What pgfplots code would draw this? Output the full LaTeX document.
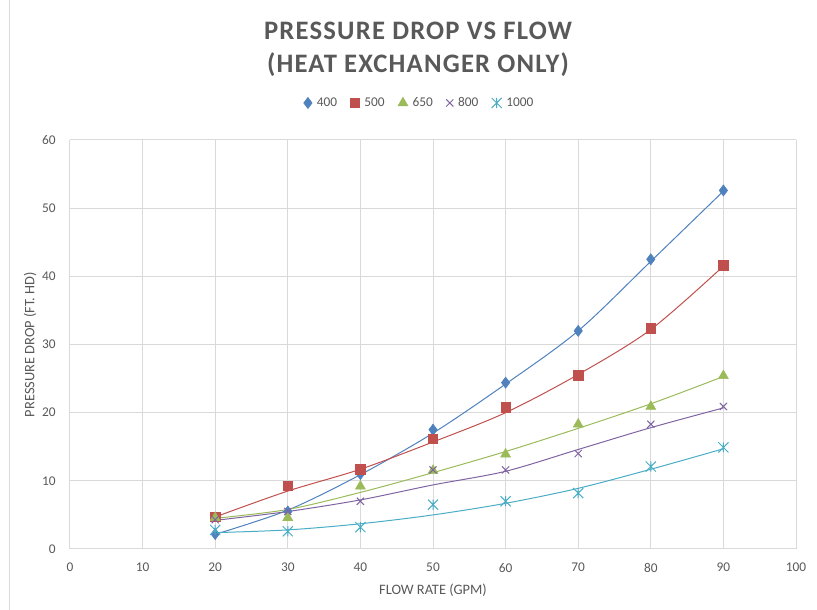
\documentclass[border=0pt]{standalone}
\usepackage{fontspec}
\setmainfont{Carlito}
\newfontfamily\titlefont[LetterSpace=4.5]{Carlito}
\usepackage{pgfplots}
\pgfplotsset{compat=1.18}
\definecolor{c1}{HTML}{4F81BD}
\definecolor{c2}{HTML}{C0504D}
\definecolor{c3}{HTML}{9BBB59}
\definecolor{c4}{HTML}{8064A2}
\definecolor{c5}{HTML}{4BACC6}
\definecolor{txt}{HTML}{595959}
\definecolor{gridc}{HTML}{D9D9D9}
\pgfdeclareplotmark{xstar}{%
  \pgfpathmoveto{\pgfqpoint{-\pgfplotmarksize}{-\pgfplotmarksize}}%
  \pgfpathlineto{\pgfqpoint{\pgfplotmarksize}{\pgfplotmarksize}}%
  \pgfpathmoveto{\pgfqpoint{-\pgfplotmarksize}{\pgfplotmarksize}}%
  \pgfpathlineto{\pgfqpoint{\pgfplotmarksize}{-\pgfplotmarksize}}%
  \pgfpathmoveto{\pgfqpoint{0pt}{-\pgfplotmarksize}}%
  \pgfpathlineto{\pgfqpoint{0pt}{\pgfplotmarksize}}%
  \pgfusepathqstroke}
\begin{document}
\begin{tikzpicture}
\useasboundingbox (-52.5pt,-45.75pt) rectangle (560.25pt,411.75pt);
\draw[gridc, line width=0.75pt] (-45pt,-45.75pt) -- (-45pt,411.75pt);
\node[font=\titlefont\fontsize{20}{24}\selectfont\bfseries, text=txt] at (261pt,388.5pt) {PRESSURE DROP VS FLOW};
\node[font=\titlefont\fontsize{20}{24}\selectfont\bfseries, text=txt] at (261pt,363.5pt) {(HEAT EXCHANGER ONLY)};
\begin{axis}[
  at={(0,0)}, anchor=south west,
  scale only axis, width=544.5pt, height=306.75pt,
  xmin=0, xmax=100, ymin=0, ymax=60,
  xtick distance=10, ytick distance=10,
  grid=major, grid style={gridc, line width=0.75pt},
  axis line style={draw=none},
  major tick length=0pt, tick style={draw=none},
  /pgf/number format/assume math mode=true,
  ticklabel style={font=\fontsize{10}{12}\selectfont, text=txt, inner sep=0pt},
  xticklabel style={anchor=center, yshift=-14pt},
  yticklabel style={anchor=east, xshift=-10.5pt},
  xlabel={FLOW RATE (GPM)}, ylabel={PRESSURE DROP (FT. HD)},
  label style={font=\fontsize{10.8}{12}\selectfont, text=txt},
  xlabel style={at={(axis description cs:0.5,-0.1002)}, anchor=center},
  ylabel style={at={(axis description cs:-0.0551,0.5)}, anchor=center},
  legend columns=-1,
  legend style={at={(axis description cs:0.482,1.0905)}, anchor=center, draw=none, fill=none,
    font=\fontsize{10}{12}\selectfont, text=txt,
    /tikz/every odd column/.append style={column sep=1.5pt},
    /tikz/every even column/.append style={column sep=8pt}},
  legend image code/.code={\draw[#1] plot coordinates {(0.12cm,0cm)};},
]
% trendlines
\addplot[c1, line width=0.75pt, smooth, forget plot] coordinates {(20,2.15)(30,5.7)(40,10.9)(50,17.0)(60,24.2)(70,32.0)(80,42.2)(90,52.5)};
\addplot[c2, line width=0.75pt, smooth, forget plot] coordinates {(20,4.7)(30,8.5)(40,11.7)(50,15.7)(60,20.0)(70,25.6)(80,32.2)(90,41.5)};
\addplot[c3, line width=0.75pt, smooth, forget plot] coordinates {(20,4.5)(30,5.8)(40,8.3)(50,11.2)(60,14.3)(70,17.7)(80,21.3)(90,25.3)};
\addplot[c4, line width=0.75pt, smooth, forget plot] coordinates {(20,4.2)(30,5.5)(40,7.2)(50,9.4)(60,11.4)(70,14.6)(80,17.8)(90,20.7)};
\addplot[c5, line width=0.75pt, smooth, forget plot] coordinates {(20,2.4)(30,2.8)(40,3.7)(50,5.0)(60,6.7)(70,8.9)(80,11.7)(90,14.7)};
% data points
\addplot[only marks, mark=diamond*, mark size=4.2pt, color=c1, fill=c1] coordinates {(20,2.2)(30,5.5)(40,11.0)(50,17.5)(60,24.4)(70,32.0)(80,42.5)(90,52.6)};
\addlegendentry{400}
\addplot[only marks, mark=square*, mark size=3.5pt, color=c2, fill=c2] coordinates {(20,4.7)(30,9.3)(40,11.7)(50,16.2)(60,20.8)(70,25.5)(80,32.4)(90,41.6)};
\addlegendentry{500}
\addplot[only marks, mark=triangle*, mark size=4.3pt, color=c3, fill=c3] coordinates {(20,4.6)(30,4.6)(40,9.2)(50,11.5)(60,13.9)(70,18.3)(80,20.9)(90,25.4)};
\addlegendentry{650}
\addplot[only marks, mark=x, mark size=3.8pt, color=c4, line width=0.75pt] coordinates {(20,4.3)(30,5.5)(40,7.0)(50,11.6)(60,11.6)(70,14.0)(80,18.3)(90,20.9)};
\addlegendentry{800}
\addplot[only marks, mark=xstar, mark size=3.8pt, color=c5, line width=0.75pt] coordinates {(20,2.8)(30,2.6)(40,3.2)(50,6.5)(60,7.0)(70,8.2)(80,12.1)(90,14.9)};
\addlegendentry{1000}
\end{axis}
\end{tikzpicture}
\end{document}
